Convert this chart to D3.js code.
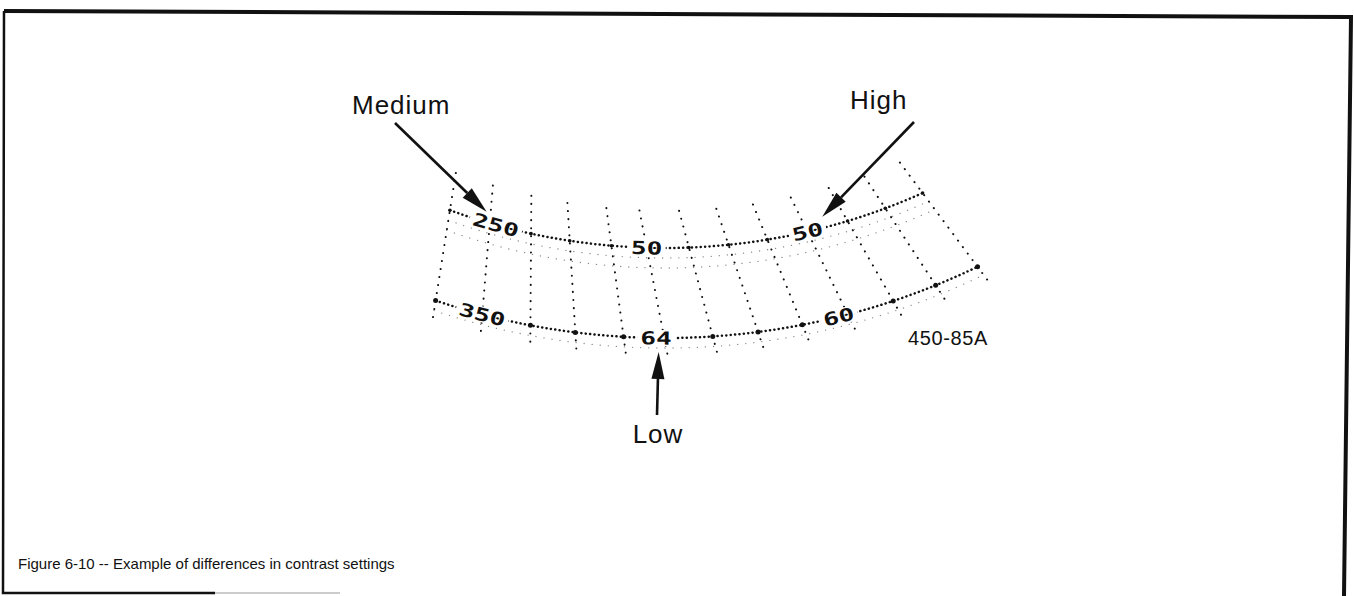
<!DOCTYPE html>
<html><head><meta charset="utf-8">
<script src="https://cdn.jsdelivr.net/npm/d3@7"></script>
<style>html,body{margin:0;padding:0;background:#fff;} svg{display:block;}</style>
</head><body>
<svg id="chart" width="1354" height="596"></svg>
<script>
// ---------------- data ----------------
// bearing of each grid spoke (degrees, 0 = straight down, + to the right)
const spokeAngles = [-9.0, -4.7, -0.4, 3.5, 7.6, 11.0, 15.0, 18.7, 22.3, 26.0, 29.7, 33.2, 36.7];
const spokeIndex  = [0, 1, 2, 3, 4, 5, 6, 7, 8, 9, 10, 11, 12];
// two range rings (inner = upper, outer = lower)
const ringNames   = ["upper", "lower"];
const ringRadius  = [631, 721];
const faintRings  = [641, 651, 731];
// readouts shown on each ring and the spoke (fractional) where they sit
const upperLabels = ["250", "50", "50"];
const upperAt     = [1.15, 5.0, 9.0];
const lowerLabels = ["350", "64", "60"];
const lowerAt     = [1.0, 4.8, 8.8];
// contrast call-outs
const calloutText = ["Medium", "High", "Low"];
const calloutRing = [0, 0, 1];
const calloutAt   = [0.9, 9.5, 4.8];
const figureId    = "450-85A";
const caption     = "Figure 6-10 -- Example of differences in contrast settings";

// ---------------- layout ----------------
const svg = d3.select("#chart");
const C = {x: 665, y: -383};   // ring centre
const P = {x: 535, y: -327};   // spoke convergence
const deg = Math.PI / 180;
const ink = "#111";

const bearing = d3.scaleLinear().domain(spokeIndex).range(spokeAngles);

function pointAt(b, R) {
  const a = bearing(b) * deg;
  const dx = Math.sin(a), dy = Math.cos(a);
  const px = P.x - C.x, py = P.y - C.y;
  const B = dx * px + dy * py;
  const K = px * px + py * py - R * R;
  const t = -B + Math.sqrt(B * B - K);
  return [P.x + t * dx, P.y + t * dy];
}
function tangentDeg(p) {
  return -Math.atan2(p[0] - C.x, p[1] - C.y) / deg;
}
const line = d3.line();
function ringPath(R, b0, b1) {
  const pts = d3.range(0, 201).map(i => pointAt(b0 + (b1 - b0) * i / 200, R));
  return line(pts);
}

// frame
svg.append("path")
  .attr("d", "M4,11 L1351,17 L1344,596")
  .attr("fill", "none").attr("stroke", ink).attr("stroke-width", 4);
svg.append("path")
  .attr("d", "M4,11 L3,593 L215,593")
  .attr("fill", "none").attr("stroke", ink).attr("stroke-width", 2.5);
svg.append("path")
  .attr("d", "M215,593 L340,593")
  .attr("fill", "none").attr("stroke", "#bbb").attr("stroke-width", 1.5);

const grid = svg.append("g");

// faint rings
grid.selectAll("path.faint").data(faintRings).join("path")
  .attr("class", "faint")
  .attr("d", R => ringPath(R, 0, 12))
  .attr("fill", "none").attr("stroke", "#888").attr("stroke-width", 1.3)
  .attr("stroke-linecap", "round").attr("stroke-dasharray", "0.1 8");

// spokes
grid.selectAll("path.spoke").data(spokeIndex).join("path")
  .attr("class", "spoke")
  .attr("d", i => line([pointAt(i, ringRadius[0] - 37), pointAt(i, ringRadius[1] + 17)]))
  .attr("fill", "none").attr("stroke", ink).attr("stroke-width", 2)
  .attr("stroke-linecap", "round").attr("stroke-dasharray", "0.1 8");

// main rings
grid.selectAll("path.ring").data(ringRadius).join("path")
  .attr("class", "ring")
  .attr("d", R => ringPath(R, 0, 12))
  .attr("fill", "none").attr("stroke", ink).attr("stroke-width", 2.5)
  .attr("stroke-linecap", "round").attr("stroke-dasharray", "0.1 4.3");

// intersection dots
ringRadius.forEach((R, k) => {
  grid.selectAll("circle.x" + k).data(spokeIndex).join("circle")
    .attr("class", "x" + k)
    .attr("cx", i => pointAt(i, R)[0]).attr("cy", i => pointAt(i, R)[1])
    .attr("r", k === 0 ? 1.8 : 2.5).attr("fill", ink);
});

// ring readouts
function drawLabels(labels, at, R) {
  const g = svg.append("g").selectAll("g").data(labels).join("g")
    .attr("transform", (d, i) => {
      const p = pointAt(at[i], R);
      return `translate(${p[0]},${p[1]}) rotate(${tangentDeg(p)})`;
    });
  g.append("rect")
    .attr("x", d => -d.length * 8 - 3).attr("y", -8)
    .attr("width", d => d.length * 16 + 6).attr("height", 16)
    .attr("fill", "#fff");
  g.append("text")
    .attr("transform", "scale(1.45,1)")
    .attr("text-anchor", "middle").attr("dy", "0.36em")
    .attr("font-family", "DejaVu Sans Mono, monospace").attr("font-weight", "bold")
    .attr("font-size", 18).attr("fill", ink)
    .text(d => d);
}
drawLabels(upperLabels, upperAt, ringRadius[0]);
drawLabels(lowerLabels, lowerAt, ringRadius[1]);

// call-outs
const textPos = [[352, 114, "start"], [850, 109, "start"], [658, 443, "middle"]];
const tailPos = [[395, 123], [914, 122], [657, 415]];
const offsets = [-10, -11, 14];
calloutText.forEach((t, i) => {
  const R = ringRadius[calloutRing[i]] + offsets[i];
  const tip = pointAt(calloutAt[i], R);
  const tail = tailPos[i];
  const ang = Math.atan2(tip[1] - tail[1], tip[0] - tail[0]);
  const L = 27, W = 6.5;
  const base = [tip[0] - L * Math.cos(ang), tip[1] - L * Math.sin(ang)];
  svg.append("line")
    .attr("x1", tail[0]).attr("y1", tail[1]).attr("x2", base[0]).attr("y2", base[1])
    .attr("stroke", ink).attr("stroke-width", 2.6);
  svg.append("path")
    .attr("d", d3.line()([
      tip,
      [base[0] + W * Math.sin(ang), base[1] - W * Math.cos(ang)],
      [base[0] - W * Math.sin(ang), base[1] + W * Math.cos(ang)]
    ]) + "Z")
    .attr("fill", ink);
  svg.append("text")
    .attr("x", textPos[i][0]).attr("y", textPos[i][1])
    .attr("text-anchor", textPos[i][2])
    .attr("font-family", "Liberation Sans, Arial, sans-serif")
    .attr("font-size", 26).attr("letter-spacing", 1).attr("fill", ink)
    .text(t);
});

svg.append("text")
  .attr("x", 908).attr("y", 345)
  .attr("font-family", "Liberation Sans, Arial, sans-serif")
  .attr("font-size", 20).attr("letter-spacing", 0.6).attr("fill", ink)
  .text(figureId);

svg.append("text")
  .attr("x", 18).attr("y", 569)
  .attr("font-family", "Liberation Sans, Arial, sans-serif")
  .attr("font-size", 15).attr("fill", ink)
  .text(caption);
</script>
</body></html>
